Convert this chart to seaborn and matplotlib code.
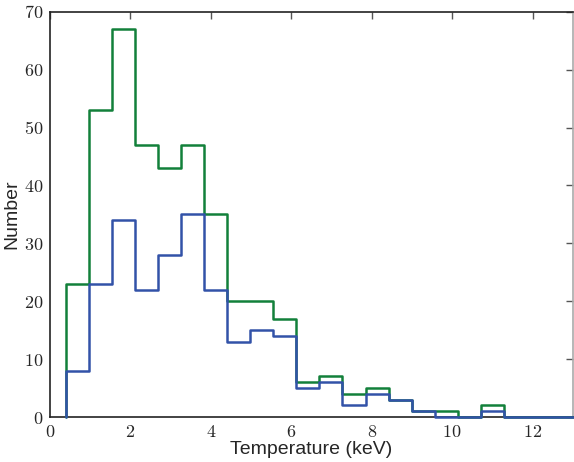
import numpy as np
import pandas as pd
import matplotlib
matplotlib.use('Agg')
import matplotlib.pyplot as plt
import seaborn as sns

bin_lo = 0.4
bin_hi = 13.0
n_bins = 22
green_counts = [23, 53, 67, 47, 43, 47, 35, 20, 20, 17, 6, 7, 4, 5, 3, 1, 1, 0, 2, 0, 0, 0]
blue_counts = [8, 23, 34, 22, 28, 35, 22, 13, 15, 14, 5, 6, 2, 4, 3, 1, 0, 0, 1, 0, 0, 0]
x_ticks = [0, 2, 4, 6, 8, 10, 12]
y_ticks = [0, 10, 20, 30, 40, 50, 60, 70]

edges = np.linspace(bin_lo, bin_hi, n_bins + 1)
centers = 0.5 * (edges[:-1] + edges[1:])
df = pd.DataFrame({'T': np.concatenate([centers, centers]),
                   'n': green_counts + blue_counts,
                   'grupo': ['verde'] * n_bins + ['azul'] * n_bins})

sns.set_style('white')
plt.rcParams['font.family'] = ['Liberation Sans', 'DejaVu Sans']
plt.rcParams['mathtext.fontset'] = 'cm'

fig = plt.figure(figsize=(5.74, 4.62), dpi=100)
ax = fig.add_axes([0.087, 0.0974, 0.911, 0.877])

colores = {'verde': '#12803a', 'azul': '#3252a8'}
for g in ['verde', 'azul']:
    sub = df[df['grupo'] == g]
    sns.histplot(data=sub, x='T', weights='n', bins=n_bins,
                 binrange=(bin_lo, bin_hi), element='step',
                 fill=False, color=colores[g], linewidth=1.8, ax=ax)

# cerrar los escalones hasta cero en los extremos (como histtype='step')
for ln in ax.lines:
    x, y = ln.get_data()
    x = np.concatenate([[x[0]], x, [x[-1]]])
    y = np.concatenate([[0], y, [0]])
    ln.set_data(x, y)
    ln.set_clip_on(False)
    ln.set_zorder(3)

ax.set_xlim(0, 13)
ax.set_ylim(0, 70)
ax.set_xticks(x_ticks)
ax.set_yticks(y_ticks)
ax.set_xticklabels([f'${v}$' for v in x_ticks])
ax.set_yticklabels([f'${v}$' for v in y_ticks])
ax.tick_params(direction='in', top=True, right=True, length=5, width=1,
               labelsize=13, color='#555555', pad=5)
ax.set_xlabel('Temperature (keV)', fontsize=14, labelpad=0)
ax.set_ylabel('Number', fontsize=14, labelpad=2)
for s in ax.spines.values():
    s.set_color('#222222')
    s.set_linewidth(1.2)
    s.set_zorder(2)
ax.spines['right'].set_color('#aaaaaa')

fig.savefig('out.png', dpi=100)
